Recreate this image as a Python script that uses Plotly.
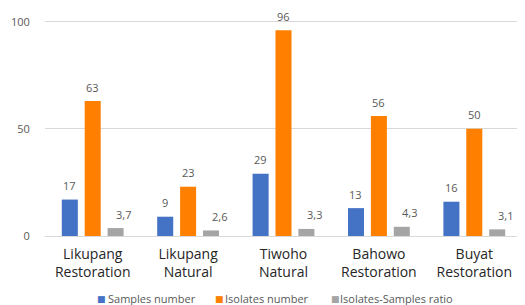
import plotly.graph_objects as go

categories = ["Likupang<br>Restoration", "Likupang<br>Natural", "Tiwoho<br>Natural",
              "Bahowo<br>Restoration", "Buyat<br>Restoration"]
samples = [17, 9, 29, 13, 16]
isolates = [63, 23, 96, 56, 50]
ratio = [3.7, 2.6, 3.3, 4.3, 3.1]
series_names = ["Samples number", "Isolates number", "Isolates-Samples ratio"]
colors = ["#4472C4", "#FF7F00", "#A5A5A5"]
y_ticks = [0, 50, 100]

FONT = "'Open Sans', Lato, sans-serif"

fig = go.Figure()
for name, vals, col in zip(series_names, [samples, isolates, ratio], colors):
    fig.add_trace(go.Bar(x=categories, y=vals, name=name, marker_color=col,
                         marker_line_width=0, showlegend=False))

label_font = dict(family=FONT, size=11, color="#595959")
xshifts = [-23, 0, 31]
for vals, xs in zip([samples, isolates, ratio], xshifts):
    for c, v in zip(categories, vals):
        txt = (f"{v:.1f}".replace(".", ",")) if isinstance(v, float) else str(v)
        fig.add_annotation(x=c, y=v, text=txt, showarrow=False, xshift=xs,
                           yshift=14, yanchor="middle", font=label_font)

# legend drawn as text items below the plot (pixel offsets from plot left/bottom)
legend_sq_x = [51, 169, 285]
legend_tx_x = [62, 179, 294]
for name, col, sx, tx in zip(series_names, colors, legend_sq_x, legend_tx_x):
    fig.add_annotation(xref="paper", yref="paper", x=0, y=0, xshift=sx, yshift=-63,
                       xanchor="left", yanchor="middle", showarrow=False, borderpad=0,
                       text="■", font=dict(family="DejaVu Sans", size=9, color=col))
    fig.add_annotation(xref="paper", yref="paper", x=0, y=0, xshift=tx, yshift=-62,
                       xanchor="left", yanchor="middle", showarrow=False, borderpad=0,
                       text=name, font=dict(family=FONT, size=11, color="#595959"))

fig.update_layout(
    width=517, height=297,
    margin=dict(l=33, r=3, t=3, b=69),
    paper_bgcolor="white", plot_bgcolor="white",
    barmode="group", bargap=0.28, bargroupgap=0.3,
    font=dict(family=FONT, color="#595959"),
    showlegend=False,
)
fig.update_yaxes(range=[0, 105], tickvals=y_ticks, showgrid=True,
                 gridcolor="#D9D9D9", gridwidth=1, zeroline=True,
                 zerolinecolor="#D9D9D9", zerolinewidth=1,
                 ticks="outside", ticklen=12, tickcolor="rgba(0,0,0,0)",
                 tickfont=dict(size=11, color="#595959"), showline=False)
fig.update_xaxes(showline=False, tickfont=dict(size=14, color="#262626"),
                 ticks="outside", ticklen=5, tickcolor="rgba(0,0,0,0)")

fig.write_html("out.html")
